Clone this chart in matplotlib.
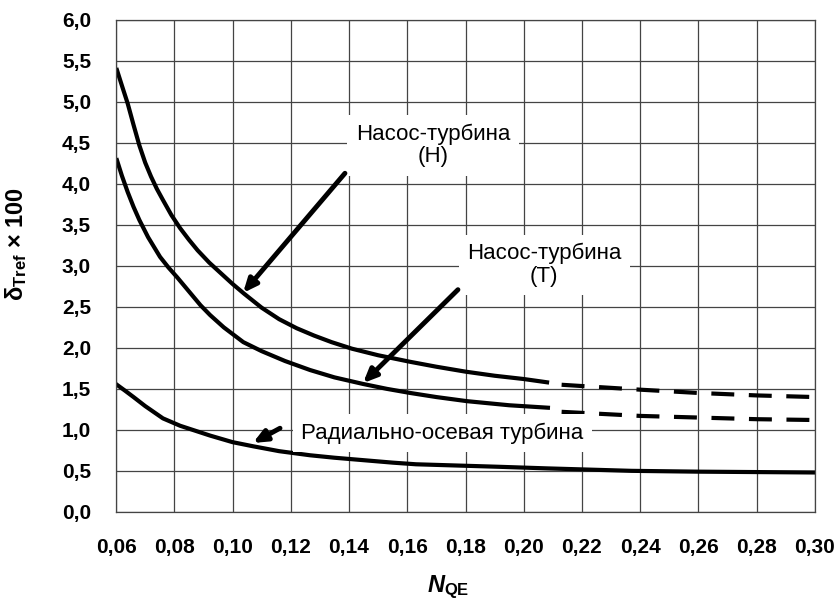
import numpy as np
import matplotlib.pyplot as plt

plt.rcParams['font.family'] = ['Liberation Sans', 'DejaVu Sans']
plt.rcParams['mathtext.fontset'] = 'custom'
plt.rcParams['mathtext.rm'] = 'Liberation Sans'
plt.rcParams['mathtext.it'] = 'Liberation Sans:italic:bold'
plt.rcParams['mathtext.bf'] = 'Liberation Sans:bold'

# Насос-турбина (H)
x_h = [0.0603, 0.062, 0.064, 0.066, 0.068, 0.070, 0.072, 0.074, 0.076, 0.079,
       0.082, 0.085, 0.088, 0.092, 0.096, 0.100, 0.104, 0.110, 0.116, 0.122,
       0.128, 0.134, 0.141, 0.150, 0.161, 0.170, 0.180, 0.190, 0.200, 0.208]
y_h = [5.39, 5.20, 4.98, 4.72, 4.47, 4.26, 4.09, 3.94, 3.81, 3.62,
       3.46, 3.32, 3.19, 3.04, 2.91, 2.78, 2.66, 2.49, 2.35, 2.24,
       2.15, 2.07, 1.99, 1.91, 1.83, 1.77, 1.71, 1.66, 1.62, 1.58]
x_h_dash = [0.213, 0.24, 0.26, 0.28, 0.30]
y_h_dash = [1.55, 1.49, 1.45, 1.42, 1.40]

# Насос-турбина (T)
x_t = [0.0603, 0.062, 0.064, 0.066, 0.068, 0.071, 0.0751, 0.078, 0.081, 0.085,
       0.089, 0.0923, 0.097, 0.1037, 0.110, 0.118, 0.1266, 0.135, 0.1448, 0.153,
       0.161, 0.170, 0.1805, 0.195, 0.2083]
y_t = [4.29, 4.10, 3.90, 3.72, 3.56, 3.35, 3.11, 2.98, 2.86, 2.69,
       2.52, 2.40, 2.25, 2.07, 1.96, 1.84, 1.73, 1.64, 1.56, 1.50,
       1.45, 1.40, 1.35, 1.30, 1.27]
x_t_dash = [0.213, 0.24, 0.26, 0.28, 0.30]
y_t_dash = [1.22, 1.17, 1.15, 1.13, 1.12]

# Радиально-осевая турбина
x_r = [0.0603, 0.063, 0.066, 0.070, 0.0761, 0.082, 0.0923, 0.100, 0.107, 0.116,
       0.1266, 0.135, 0.145, 0.155, 0.163, 0.191, 0.208, 0.237, 0.26, 0.30]
y_r = [1.55, 1.48, 1.40, 1.29, 1.14, 1.05, 0.93, 0.85, 0.80, 0.74,
       0.69, 0.66, 0.63, 0.60, 0.58, 0.55, 0.53, 0.50, 0.49, 0.48]

x_ticks = [0.06, 0.08, 0.10, 0.12, 0.14, 0.16, 0.18, 0.20, 0.22, 0.24, 0.26, 0.28, 0.30]
x_labels = ['0,06', '0,08', '0,10', '0,12', '0,14', '0,16', '0,18', '0,20',
            '0,22', '0,24', '0,26', '0,28', '0,30']
y_ticks = [0.0, 0.5, 1.0, 1.5, 2.0, 2.5, 3.0, 3.5, 4.0, 4.5, 5.0, 5.5, 6.0]
y_labels = ['0,0', '0,5', '1,0', '1,5', '2,0', '2,5', '3,0', '3,5', '4,0',
            '4,5', '5,0', '5,5', '6,0']

fig = plt.figure(figsize=(8.35, 6.05), dpi=100)
ax = fig.add_axes([0.139, 0.154, 0.837, 0.813])

ax.set_xlim(0.06, 0.30)
ax.set_ylim(0, 6.0)
ax.set_xticks(x_ticks)
ax.set_xticklabels(x_labels)
ax.set_yticks(y_ticks)
ax.set_yticklabels(y_labels)
ax.tick_params(length=0, labelsize=15)
ax.tick_params(axis='x', pad=19)
ax.tick_params(axis='y', pad=18)
for lab in ax.get_xticklabels() + ax.get_yticklabels():
    lab.set_fontweight('bold')
ax.grid(True, color='#444444', lw=0.9)
ax.set_axisbelow(True)
for s in ax.spines.values():
    s.set_color('#444444')
    s.set_linewidth(0.9)

lw = 3.0
ax.plot(x_h, y_h, color='black', lw=lw, solid_joinstyle='round')
ax.plot(x_h_dash, y_h_dash, color='black', lw=lw, linestyle=(0, (5.5, 3.5)))
ax.plot(x_t, y_t, color='black', lw=lw, solid_joinstyle='round')
ax.plot(x_t_dash, y_t_dash, color='black', lw=lw, linestyle=(0, (5.5, 3.5)))
ax.plot(x_r, y_r, color='black', lw=lw, solid_joinstyle='round')

# подписи
box = dict(facecolor='white', edgecolor='none', pad=6)
ax.text(0.1688, 4.47, 'Насос-турбина\n(H)', ha='center', va='center',
        fontsize=16, linespacing=1.1, bbox=box)
ax.text(0.207, 3.01, 'Насос-турбина\n(T)', ha='center', va='center',
        fontsize=16, linespacing=1.1, bbox=box)
ax.text(0.172, 0.96, 'Радиально-осевая турбина', ha='center', va='center',
        fontsize=16, bbox=box)

arrow = dict(arrowstyle='-|>,head_length=0.8,head_width=0.35', lw=3.5,
             color='black', shrinkA=0, shrinkB=0)
ax.annotate('', xy=(0.1036, 2.67), xytext=(0.1386, 4.13), arrowprops=arrow)
ax.annotate('', xy=(0.1448, 1.57), xytext=(0.1774, 2.71), arrowprops=arrow)
ax.annotate('', xy=(0.107, 0.84), xytext=(0.1163, 1.02), arrowprops=arrow)

ax.set_ylabel(r'$\mathbf{δ_{Tref}}$ × 100', fontsize=17, fontweight='bold')
ax.yaxis.set_label_coords(-0.125, 0.545)
ax.set_xlabel(r'$\mathit{N}_{\mathbf{QE}}$', fontsize=17)
ax.xaxis.set_label_coords(0.475, -0.125)

plt.savefig('out.png', dpi=100)
